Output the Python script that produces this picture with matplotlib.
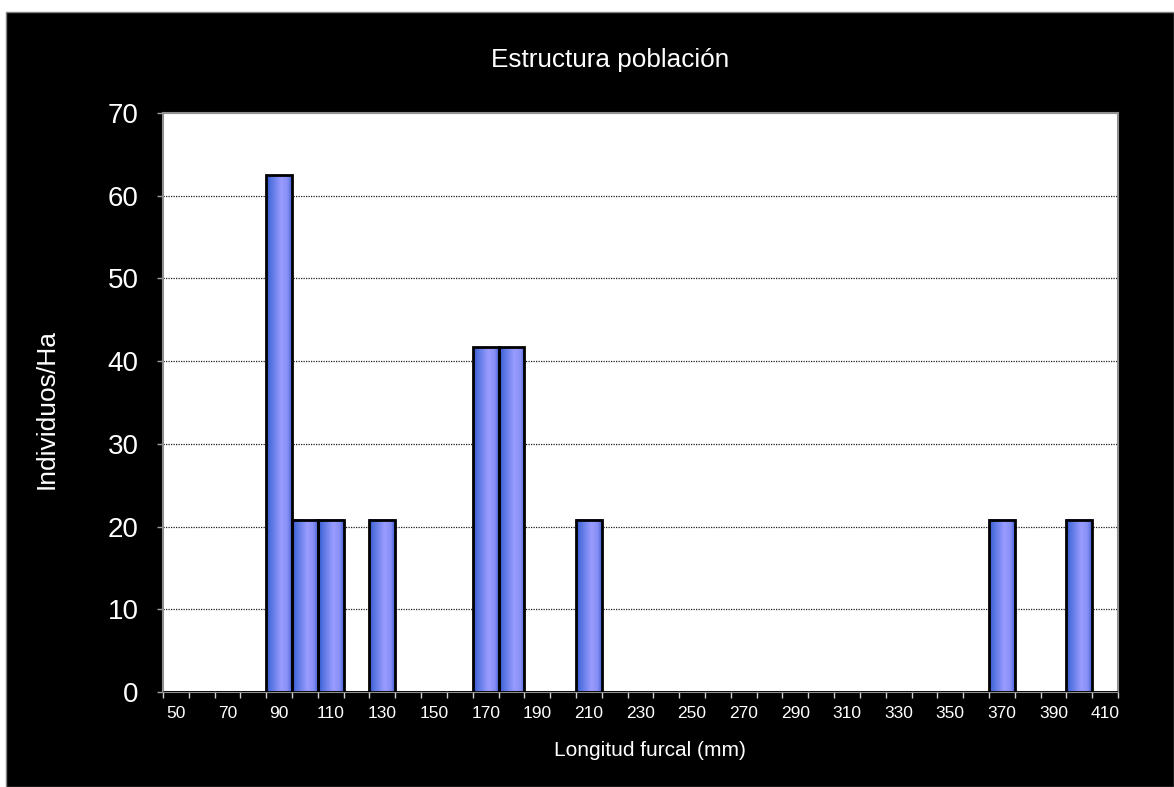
import numpy as np
import matplotlib
matplotlib.use("Agg")
import matplotlib.pyplot as plt
from matplotlib.patches import Rectangle
from matplotlib.colors import LinearSegmentedColormap

# ---- data ----
lengths = [50, 60, 70, 80, 90, 100, 110, 120, 130, 140, 150, 160, 170, 180, 190,
           200, 210, 220, 230, 240, 250, 260, 270, 280, 290, 300, 310, 320, 330,
           340, 350, 360, 370, 380, 390, 400, 410]
individuos = [0, 0, 0, 0, 62.5, 20.83, 20.83, 0, 20.83, 0, 0, 0, 41.67, 41.67, 0,
              0, 20.83, 0, 0, 0, 0, 0, 0, 0, 0, 0, 0, 0, 0,
              0, 0, 0, 20.83, 0, 0, 20.83, 0]
title = "Estructura población"
xlabel = "Longitud furcal (mm)"
ylabel = "Individuos/Ha"

W, H = 1174, 787
plt.rcParams['font.family'] = ['Liberation Sans', 'DejaVu Sans']
fig = plt.figure(figsize=(W / 100, H / 100), dpi=100, facecolor="white")

# black background panel
bg = Rectangle((6 / W, 0), 1 - 6 / W, (H - 12) / H, transform=fig.transFigure,
               facecolor="black", edgecolor="#808080", linewidth=1.0, zorder=-10)
fig.add_artist(bg)

ax = fig.add_axes([163 / W, 1 - 692 / H, (1118 - 163) / W, (692 - 113) / H])
ax.set_zorder(1)
ax.set_facecolor("white")

x = np.arange(len(lengths))
bars = ax.bar(x, individuos, width=1.0, facecolor="none", edgecolor="black",
              linewidth=2.0, zorder=3)

cmap = LinearSegmentedColormap.from_list(
    "barg", [(0.0, "#2f50c8"), (0.15, "#5070de"), (0.6, "#9a9cff"), (0.85, "#868ef4"), (1.0, "#4262d6")])
grad = np.linspace(0, 1, 64).reshape(1, -1)
for b in bars:
    h = b.get_height()
    if h <= 0:
        continue
    x0 = b.get_x()
    ax.imshow(grad, cmap=cmap, extent=[x0, x0 + b.get_width(), 0, h],
              aspect="auto", zorder=2, interpolation="bilinear")

ax.set_xlim(-0.5, len(lengths) - 0.5)
ax.set_ylim(0, 70)
ax.set_aspect("auto")

# grid
ax.set_yticks(np.arange(0, 71, 10))
for yv in range(10, 70, 10):
    ax.axhline(yv, color="#202020", linestyle=(0, (1, 1)), linewidth=0.9, zorder=1)

# x ticks: labels every other category, tick marks at boundaries
ax.set_xticks(x[::2])
ax.set_xticklabels([str(v) for v in lengths[::2]])
ax.set_xticks(np.arange(-0.5, len(lengths), 1.0), minor=True)
ax.tick_params(axis="x", which="major", length=0, pad=10, labelsize=12.5, labelcolor="white")
ax.tick_params(axis="x", which="minor", length=4, width=1, color="#d0d0d0", direction="out")
ax.tick_params(axis="y", which="major", length=4.5, width=1, color="#a0a0a0", pad=13,
               labelsize=20, labelcolor="white")

for s in ax.spines.values():
    s.set_color("#909090")
    s.set_linewidth(1.5)

fig.text(610 / W, 1 - 60 / H, title, color="white", fontsize=18.8, ha="center", va="center")
fig.text(650 / W, 1 - 751 / H, xlabel, color="white", fontsize=15, ha="center", va="center")
fig.text(47 / W, 1 - 409 / H, ylabel, color="white", fontsize=19, ha="center", va="center",
         rotation=90)

fig.savefig("out.png", dpi=100, facecolor=fig.get_facecolor())
